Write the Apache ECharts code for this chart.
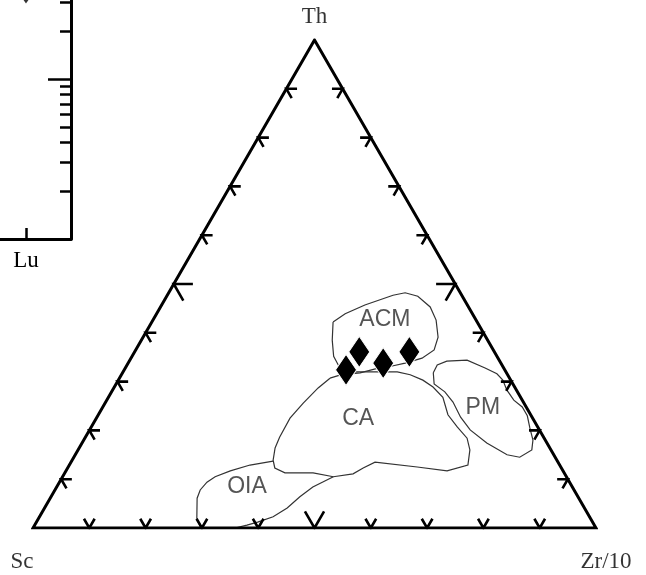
<!DOCTYPE html>
<html>
<head>
<meta charset="utf-8">
<script src="https://cdn.jsdelivr.net/npm/echarts@6/dist/echarts.min.js"></script>
<style>
  html, body { margin: 0; padding: 0; background: #fff; }
  #chart { width: 646px; height: 575px; }
</style>
</head>
<body>
<div id="chart"></div>
<script>
// ---- Th - Sc - Zr/10 ternary diagram ----
const apexNames = ['Th', 'Sc', 'Zr/10'];

// Samples, normalized to 100 % (Th, Sc, Zr/10)
const sampleTh = [36.1, 32.4, 33.8, 36.1];
const sampleSc = [24.0, 28.2, 20.9, 15.1];
const sampleZr = [39.9, 39.4, 45.3, 48.8];

// Tectonic-setting fields, boundary vertices as [Zr/10 %, Th %] (Sc = 100 - both)
const fieldACM = [[32.2, 42.2], [33.5, 43.9], [36.1, 45.7], [40.1, 47.7], [42.0, 48.2], [44.6, 47.5],
  [47.9, 45.3], [50.3, 42.6], [52.4, 39.1], [53.0, 36.5], [51.7, 34.8], [49.2, 33.8], [47.2, 33.2],
  [44.5, 32.6], [42.2, 31.8], [40.5, 31.6], [38.1, 32.8], [35.8, 35.2], [33.9, 38.5]];
const fieldCA = [[37.4, 30.7], [39.9, 31.8], [41.6, 32.0], [48.7, 32.0], [51.3, 31.4], [54.1, 30.3],
  [56.6, 28.9], [59.4, 26.8], [60.6, 25.2], [62.1, 23.2], [65.0, 20.7], [67.9, 18.4], [69.6, 16.0],
  [70.8, 12.9], [67.7, 11.7], [62.0, 12.5], [54.0, 13.5], [52.5, 12.3], [51.3, 11.1], [48.1, 10.5],
  [44.1, 11.3], [39.1, 11.3], [36.8, 12.3], [35.7, 13.9], [34.8, 16.4], [34.5, 18.6], [34.4, 22.5],
  [35.2, 25.6], [36.3, 28.7]];
const fieldPM = [[55.2, 31.8], [55.1, 33.4], [56.4, 34.2], [59.9, 34.4], [63.9, 32.8], [66.6, 31.6],
  [68.3, 30.3], [70.0, 28.3], [72.3, 26.2], [74.5, 24.8], [76.3, 23.0], [78.0, 20.5], [79.8, 18.0],
  [80.6, 16.0], [79.2, 14.5], [76.7, 15.0], [71.9, 17.4], [67.6, 20.1], [64.6, 22.7], [61.7, 25.8],
  [59.2, 27.9], [56.5, 29.5]];
// OIA is open: its part inside CA is not drawn
const fieldOIA = [[35.8, 13.7], [32.1, 12.9], [29.2, 11.7], [27.1, 10.5], [26.2, 9.4], [25.8, 7.8],
  [26.1, 6.1], [28.1, 2.0], [29.8, 0], [35.9, 0], [37.7, 0.6], [39.3, 1.2], [41.5, 2.3], [43.1, 4.1],
  [44.2, 6.4], [45.5, 8.4], [48.1, 10.5]];
const fieldNames = ['ACM', 'CA', 'PM', 'OIA'];
const fieldLabelAt = [[41.2, 42.6], [46.5, 22.5], [67.6, 24.6], [33.8, 8.4]];

// Edge ticks every 10 %, long one at 50 %
const tickSteps = [10, 20, 30, 40, 50, 60, 70, 80, 90];
const majorStep = 50;

// ---- REE pattern panel (right end) ----
const reeCategories = ['Lu'];
const reeValues = [37];
const reeRange = [1, 100];

// ternary (Zr, Th) -> plane coordinates
const H = Math.sqrt(3) / 2;
function toXY(zr, th) { return [zr + th / 2, th * H]; }

function closed(pts) { return pts.concat([pts[0]]).map(p => toXY(p[0], p[1])); }
function open(pts) { return pts.map(p => toXY(p[0], p[1])); }

// tick polylines: two short stubs meeting at the edge point
const tickLines = [];
tickSteps.forEach(s => {
  const L = s === majorStep ? 3.4 : 1.9;
  const b = toXY(s, 0);
  tickLines.push([[b[0] - 0.5 * L, b[1] + H * L], b, [b[0] + 0.5 * L, b[1] + H * L]]);
  const l = toXY(0, s);
  tickLines.push([[l[0] + L, l[1]], l, [l[0] + 0.5 * L, l[1] - H * L]]);
  const r = toXY(100 - s, s);
  tickLines.push([[r[0] - L, r[1]], r, [r[0] - 0.5 * L, r[1] - H * L]]);
});

const vTh = toXY(0, 100), vSc = toXY(0, 0), vZr = toXY(100, 0);
const triangle = [toXY(50, 0), vZr, vTh, vSc, toXY(50, 0)];

const samplePts = sampleTh.map((th, i) => {
  const sum = th + sampleSc[i] + sampleZr[i];
  return toXY(sampleZr[i] / sum * 100, th / sum * 100);
});

const serif = 'Liberation Serif, Times New Roman, serif';
const sans = 'Liberation Sans, Arial, Helvetica, sans-serif';

const chart = echarts.init(document.getElementById('chart'), null, { renderer: 'canvas' });
chart.setOption({
  animation: false,
  backgroundColor: '#fff',
  grid: [
    { left: 33, right: 50, top: 40, bottom: 47, outerBoundsMode: 'none', containLabel: false },
    { left: -19, right: 575, top: -81, bottom: 336, outerBoundsMode: 'none', containLabel: false }
  ],
  xAxis: [
    { gridIndex: 0, type: 'value', min: 0, max: 100, show: false },
    {
      gridIndex: 1, type: 'category', data: reeCategories, boundaryGap: true,
      axisLine: { lineStyle: { color: '#000', width: 3 } },
      axisTick: { show: true, alignWithLabel: true, inside: true, length: 11, lineStyle: { color: '#000', width: 2.5 } },
      axisLabel: { margin: 10, color: '#000', fontFamily: serif, fontSize: 23 },
      splitLine: { show: false }
    }
  ],
  yAxis: [
    { gridIndex: 0, type: 'value', min: 0, max: 100 * H, show: false },
    {
      gridIndex: 1, type: 'log', logBase: 10, min: reeRange[0], max: reeRange[1], position: 'right',
      axisLine: { show: true, lineStyle: { color: '#000', width: 3 } },
      axisTick: { show: true, inside: true, length: 23, lineStyle: { color: '#000', width: 2.5 } },
      minorTick: { show: true, splitNumber: 9, length: 11, lineStyle: { color: '#000', width: 2.5 } },
      axisLabel: { show: false }, splitLine: { show: false }, minorSplitLine: { show: false }
    }
  ],
  series: [
    {
      type: 'lines', coordinateSystem: 'cartesian2d', xAxisIndex: 0, yAxisIndex: 0, polyline: true,
      silent: true, z: 2,
      lineStyle: { color: '#333', width: 1.2, opacity: 1, curveness: 0 },
      data: [closed(fieldACM), closed(fieldCA), closed(fieldPM), open(fieldOIA)].map(c => ({ coords: c }))
    },
    {
      type: 'lines', coordinateSystem: 'cartesian2d', xAxisIndex: 0, yAxisIndex: 0, polyline: true,
      silent: true, z: 3,
      lineStyle: { color: '#000', width: 2.6, opacity: 1, curveness: 0 },
      data: tickLines.map(c => ({ coords: c }))
    },
    {
      type: 'line', xAxisIndex: 0, yAxisIndex: 0, data: triangle, showSymbol: false, silent: true, z: 3,
      lineStyle: { color: '#000', width: 3, join: 'miter', cap: 'butt' }
    },
    {
      type: 'scatter', xAxisIndex: 0, yAxisIndex: 0, symbol: 'diamond', symbolSize: [21, 31], z: 5,
      itemStyle: { color: '#000', borderColor: '#fff', borderWidth: 1, opacity: 1 },
      data: samplePts
    },
    {
      type: 'scatter', xAxisIndex: 0, yAxisIndex: 0, symbolSize: 1, z: 6, silent: true,
      itemStyle: { color: 'rgba(0,0,0,0)' },
      label: {
        show: true, position: 'inside', color: '#2a2a2a', fontFamily: sans, fontSize: 23,
        align: 'center', verticalAlign: 'middle', formatter: p => p.name
      },
      data: fieldNames.map((n, i) => ({ name: n, value: toXY(fieldLabelAt[i][0], fieldLabelAt[i][1]) }))
    },
    {
      type: 'scatter', xAxisIndex: 0, yAxisIndex: 0, symbolSize: 1, z: 6, silent: true,
      itemStyle: { color: 'rgba(0,0,0,0)' },
      label: {
        show: true, position: 'inside', color: '#000', fontFamily: serif, fontSize: 23,
        align: 'center', verticalAlign: 'middle', formatter: p => p.name
      },
      data: [
        { name: apexNames[0], value: vTh, label: { offset: [0, -23] } },
        { name: apexNames[1], value: vSc, label: { offset: [-11, 34] } },
        { name: apexNames[2], value: vZr, label: { offset: [10, 34] } }
      ]
    },
    {
      type: 'scatter', xAxisIndex: 1, yAxisIndex: 1, symbol: 'diamond', symbolSize: [21, 31],
      itemStyle: { color: '#000' },
      data: reeCategories.map((c, i) => [c, reeValues[i]])
    }
  ]
});
</script>
</body>
</html>
